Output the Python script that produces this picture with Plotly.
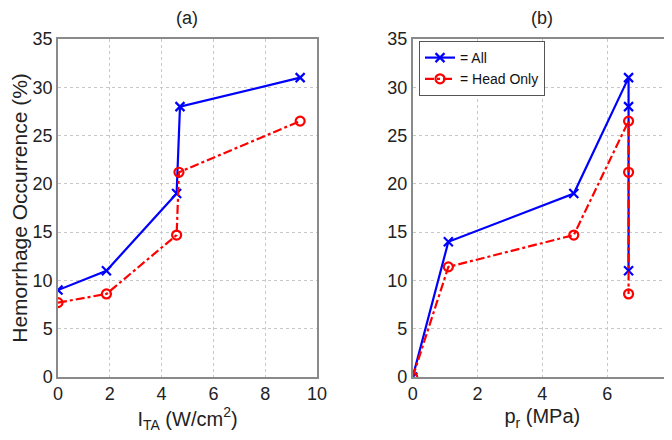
import plotly.graph_objects as go

# Panel (a): spatial-peak temporal-average intensity I_TA (W/cm^2)
ita_all = [0.0, 1.87, 4.58, 4.71, 9.35]
occ_all_a = [9.0, 11.0, 19.0, 28.0, 31.0]
ita_head = [0.0, 1.87, 4.58, 4.67, 9.35]
occ_head_a = [7.7, 8.6, 14.7, 21.2, 26.5]

# Panel (b): peak rarefactional pressure p_r (MPa)
pr_all = [0.0, 1.1, 4.97, 6.66, 6.66, 6.66]
occ_all_b = [0.0, 14.0, 19.0, 31.0, 28.0, 11.0]
pr_head = [0.0, 1.1, 4.97, 6.66, 6.66, 6.66]
occ_head_b = [0.0, 11.4, 14.7, 26.5, 21.2, 8.6]

y_ticks = [0, 5, 10, 15, 20, 25, 30, 35]
xa_ticks = [0, 2, 4, 6, 8, 10]
xb_ticks = [0, 2, 4, 6, 8]

# page body has an 8px margin, so the figure is placed at (8, 8)
OFF = 8
W, H = 672 - OFF, 440 - OFF
FONT = "Liberation Sans, Arial, sans-serif"
BLUE = "rgb(0,0,255)"
RED = "rgb(255,0,0)"

def px_x(v):
    return (v - OFF) / W

def px_y(v):
    return 1 - (v - OFF) / H

fig = go.Figure()

def add_pair(x1, y1, x2, y2, xa, ya, show):
    fig.add_trace(go.Scatter(
        x=x1, y=y1, mode="lines+markers", name="= All", showlegend=show,
        xaxis=xa, yaxis=ya,
        line=dict(color=BLUE, width=2.2),
        marker=dict(symbol="x-thin-open", size=9, color=BLUE,
                    line=dict(color=BLUE, width=2.2)),
    ))
    fig.add_trace(go.Scatter(
        x=x2, y=y2, mode="lines+markers", name="= Head Only", showlegend=show,
        xaxis=xa, yaxis=ya,
        line=dict(color=RED, width=2.2, dash="dashdot"),
        marker=dict(symbol="circle-open", size=9, color=RED,
                    line=dict(color=RED, width=2.2)),
    ))

add_pair(ita_all, occ_all_a, ita_head, occ_head_a, "x", "y", False)
add_pair(pr_all, occ_all_b, pr_head, occ_head_b, "x2", "y2", True)

ydom = [px_y(377), px_y(39)]
axis_common = dict(
    showline=True, mirror=True, linecolor="#8a8a8a", linewidth=1.5,
    showgrid=True, gridcolor="#c8c8c8", griddash="dot", gridwidth=1,
    zeroline=False, ticks="", automargin=False, ticklabeloverflow="allow",
    tickfont=dict(family=FONT, size=18, color="#222"),
)

fig.update_layout(
    width=W, height=H,
    margin=dict(l=0, r=0, t=0, b=0, autoexpand=False),
    paper_bgcolor="white", plot_bgcolor="white",
    font=dict(family=FONT, color="#222"),
    xaxis=dict(domain=[px_x(58), px_x(317)], range=[0, 10], tickvals=xa_ticks,
               anchor="y",
               title=dict(text="I<sub>TA</sub> (W/cm<sup>2</sup>)",
                          font=dict(family=FONT, size=20), standoff=6),
               **axis_common),
    yaxis=dict(domain=ydom, range=[0, 35], tickvals=y_ticks, anchor="x",
               title=dict(text="Hemorrhage Occurrence (%)",
                          font=dict(family=FONT, size=21), standoff=7),
               **axis_common),
    xaxis2=dict(domain=[px_x(412.7), 1.0], range=[0, 8], tickvals=xb_ticks,
                anchor="y2",
                title=dict(text="p<sub>r</sub> (MPa)",
                           font=dict(family=FONT, size=20), standoff=6),
                **axis_common),
    yaxis2=dict(domain=ydom, range=[0, 35], tickvals=y_ticks, anchor="x2",
                **axis_common),
    legend=dict(x=px_x(419), y=px_y(41), xanchor="left", yanchor="top",
                bgcolor="white", bordercolor="#555", borderwidth=1,
                font=dict(family=FONT, size=14, color="#111"),
                tracegroupgap=0, itemwidth=30),
    annotations=[
        dict(text="(a)", x=px_x((58 + 317) / 2), y=px_y(18), xref="paper",
             yref="paper", xanchor="center", yanchor="middle",
             showarrow=False, font=dict(family=FONT, size=18)),
        dict(text="(b)", x=px_x((412.7 + 672) / 2), y=px_y(18), xref="paper",
             yref="paper", xanchor="center", yanchor="middle",
             showarrow=False, font=dict(family=FONT, size=18)),
    ],
)

fig.write_html("out.html")
